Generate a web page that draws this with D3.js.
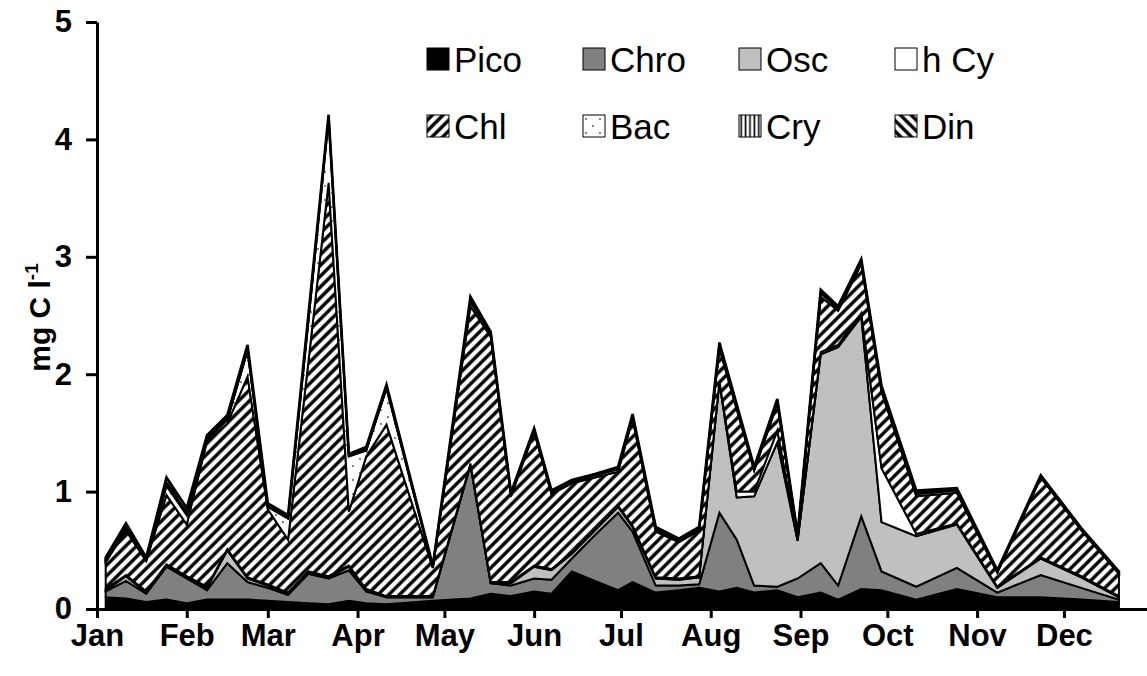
<!DOCTYPE html>
<html>
<head>
<meta charset="utf-8">
<script src="https://cdn.jsdelivr.net/npm/d3@7"></script>
<style>
	body { margin: 0; background: #fff; }
	text { font-family: Arial, "Liberation Sans", sans-serif; }
</style>
</head>
<body>
<div id="chart-area"></div>
<script>
const width = 1147
const height = 676

const margin = {
	top: 22,
	left: 97,
	bottom: 67
}

// sampling dates
const dates = ["2001-01-04", "2001-01-11", "2001-01-18", "2001-01-25", "2001-02-01", "2001-02-08",
	"2001-02-15", "2001-02-22", "2001-03-01", "2001-03-08", "2001-03-15", "2001-03-22", "2001-03-29",
	"2001-04-04", "2001-04-11", "2001-04-27", "2001-05-10", "2001-05-17", "2001-05-24", "2001-06-01",
	"2001-06-07", "2001-06-14", "2001-06-22", "2001-06-30", "2001-07-05", "2001-07-13", "2001-07-21",
	"2001-07-28", "2001-08-04", "2001-08-10", "2001-08-16", "2001-08-24", "2001-08-31", "2001-09-08",
	"2001-09-14", "2001-09-22", "2001-09-29", "2001-10-11", "2001-10-25", "2001-11-08", "2001-11-23",
	"2001-12-07", "2001-12-20"]

// biomass per group, mg C l-1
const pico = [.10, .09, .06, .08, .05, .08, .08, .08, .07, .06, .05, .04, .07, .05, .04, .07, .09, .13, .11, .15, .13, .32,
	.24, .16, .23, .14, .16, .18, .15, .18, .14, .16, .10, .14, .08, .17, .16, .08, .17, .10, .10, .08, .06]
const chro = [.05, .15, .07, .28, .21, .08, .31, .15, .11, .06, .25, .22, .26, .10, .06, .03, 1.14, .09, .09, .11, .12, .11,
	.39, .66, .43, .06, .04, .03, .67, .41, .06, .03, .16, .25, .12, .62, .16, .11, .18, .04, .19, .10, .02]
const osc = [.01, .04, .01, .01, .01, .02, .11, .03, .02, .01, .01, .01, .03, .01, 0, 0, 0, 0, .02, .10, .08, .04,
	.04, .05, .04, .06, .05, .06, 1.11, .36, .76, 1.23, .32, 1.78, 2.03, 1.70, .42, .43, .37, .04, .14, .09, .02]
const hcy = [.01, .01, .01, .01, .01, .01, .01, .01, .01, .01, .01, .01, .01, .01, .01, .01, .01, .01, .01, .01, .01, .01,
	.01, .01, .01, .01, .01, .01, .01, .05, .04, .10, .01, .02, .02, .03, .46, .02, .01, .01, .01, .01, .01]
const chl = [.23, .38, .26, .59, .44, 1.24, 1.07, 1.71, .64, .45, 1.78, 3.35, .46, 1.13, 1.46, .24, 1.34, 2.09, .73, 1.14, .64, .59,
	.44, .29, .91, .39, .31, .39, .28, .70, .18, .23, .03, .47, .29, .42, .65, .32, .26, .12, .68, .39, .19]
const bac = [.02, .03, .01, .08, .08, .02, .03, .22, .02, .18, .35, .55, .47, .05, .31, .01, .04, .02, .01, .01, .01, .01,
	.02, .02, .02, .02, .01, .01, .02, .02, .01, .02, .01, .03, .02, .02, .02, .02, .02, .01, .01, .01, .01]
const cry = [.01, .01, .01, .02, .02, .01, .01, .02, .01, .01, .02, .01, .01, .01, .01, 0, .01, .01, .01, .01, .01, .01,
	.01, .01, .01, .01, .01, .01, .01, .01, .01, .01, 0, .01, .01, .01, .01, .01, .01, 0, 0, 0, 0]
const din = [.01, .02, .01, .05, .04, .02, .03, .03, .02, .02, .03, .02, .01, .02, .02, .01, .03, .01, .01, .01, .01, .01,
	0, .01, .01, .01, .01, .01, .02, .01, .01, .01, .01, .02, .01, .01, .02, .02, .01, .01, .01, .01, .01]

const keys = ["Pico", "Chro", "Osc", "h Cy", "Chl", "Bac", "Cry", "Din"]
const yTicks = [0, 1, 2, 3, 4, 5]
const months = ["Jan", "Feb", "Mar", "Apr", "May", "Jun", "Jul", "Aug", "Sep", "Oct", "Nov", "Dec"]

const parseDate = d3.timeParse("%Y-%m-%d")
const series = [pico, chro, osc, hcy, chl, bac, cry, din]

const table = dates.map((d, i) => {
	let row = { date: parseDate(d) }
	keys.forEach((k, j) => { row[k] = series[j][i] })
	return row
})

let svg = d3.select("#chart-area")
	.append("svg")
	.attr("width", width)
	.attr("height", height)

// fills and patterns
let defs = svg.append("defs")

function stripes(id, angle, size, lw) {
	let p = defs.append("pattern")
		.attr("id", id)
		.attr("patternUnits", "userSpaceOnUse")
		.attr("width", size)
		.attr("height", size)
		.attr("patternTransform", "rotate(" + angle + ")")
	p.append("rect").attr("width", size).attr("height", size).attr("fill", "#fff")
	p.append("line")
		.attr("x1", size / 2).attr("x2", size / 2)
		.attr("y1", 0).attr("y2", size)
		.attr("stroke", "#000")
		.attr("stroke-width", lw)
}
stripes("chl", 45, 7.6, 3.4)
stripes("din", -45, 7.6, 3.4)
stripes("cry", 0, 4.4, 1.6)

let dots = defs.append("pattern")
	.attr("id", "bac")
	.attr("patternUnits", "userSpaceOnUse")
	.attr("width", 14)
	.attr("height", 14)
dots.append("rect").attr("width", 14).attr("height", 14).attr("fill", "#fff")
dots.append("circle").attr("cx", 3).attr("cy", 4).attr("r", 0.9).attr("fill", "#444")
dots.append("circle").attr("cx", 10).attr("cy", 11).attr("r", 0.9).attr("fill", "#444")

const fills = {
	"Pico": "#000",
	"Chro": "#808080",
	"Osc": "#c0c0c0",
	"h Cy": "#fff",
	"Chl": "url(#chl)",
	"Bac": "url(#bac)",
	"Cry": "url(#cry)",
	"Din": "url(#din)"
}

// scales
let xScale = d3.scaleTime()
	.domain([new Date(2001, 0, 1), new Date(2002, 0, 1)])
	.range([margin.left, margin.left + 365 * 2.895])

let yScale = d3.scaleLinear()
	.domain([0, 5])
	.range([height - margin.bottom, margin.top])

// stacked areas
let stacked = d3.stack().keys(keys)(table)

let area = d3.area()
	.x(d => xScale(d.data.date))
	.y0(d => yScale(d[0]))
	.y1(d => yScale(d[1]))

svg.append("g")
	.selectAll("path")
	.data(stacked)
	.join("path")
	.attr("d", area)
	.attr("fill", d => fills[d.key])
	.attr("stroke", "#000")
	.attr("stroke-width", d => d.key == "Din" ? 2.6 : 2)
	.attr("stroke-linejoin", "miter")

// axes
let xAxis = d3.axisBottom(xScale)
	.tickValues(months.map((m, i) => new Date(2001, i, 1)))
	.tickFormat((d, i) => months[i])
	.tickSize(9)
	.tickSizeOuter(0)
	.tickPadding(6)

let gx = svg.append("g")
	.attr("transform", "translate(0," + yScale(0) + ")")
	.call(xAxis)

let yAxis = d3.axisLeft(yScale)
	.tickValues(yTicks)
	.tickFormat(d3.format("d"))
	.tickSize(11)
	.tickSizeOuter(0)
	.tickPadding(14)

let gy = svg.append("g")
	.attr("transform", "translate(" + margin.left + ",0)")
	.call(yAxis)

svg.selectAll(".domain").attr("stroke-width", 3)
svg.selectAll(".tick line").attr("stroke-width", 3)
svg.selectAll(".tick text")
	.attr("font-size", 31)
	.attr("font-weight", "bold")
	.attr("fill", "#000")

// axis title
let title = svg.append("text")
	.attr("transform", "translate(50," + (yScale(2.5) + 2) + ") rotate(-90)")
	.attr("text-anchor", "middle")
	.attr("font-size", 30)
	.attr("font-weight", "bold")
title.append("tspan").text("mg C l")
title.append("tspan").attr("dy", -12).attr("font-size", 19).text("-1")

// legend
let legend = svg.append("g")
	.selectAll("g")
	.data(keys)
	.join("g")
	.attr("transform", (d, i) => "translate(" + (427 + (i % 4) * 156) + "," + (48 + Math.floor(i / 4) * 67) + ")")

legend.append("rect")
	.attr("width", 22)
	.attr("height", 22)
	.attr("fill", d => fills[d])
	.attr("stroke", "#000")
	.attr("stroke-width", 1)

legend.append("text")
	.attr("x", 27)
	.attr("y", 24)
	.attr("font-size", 35)
	.text(d => d)
</script>
</body>
</html>
